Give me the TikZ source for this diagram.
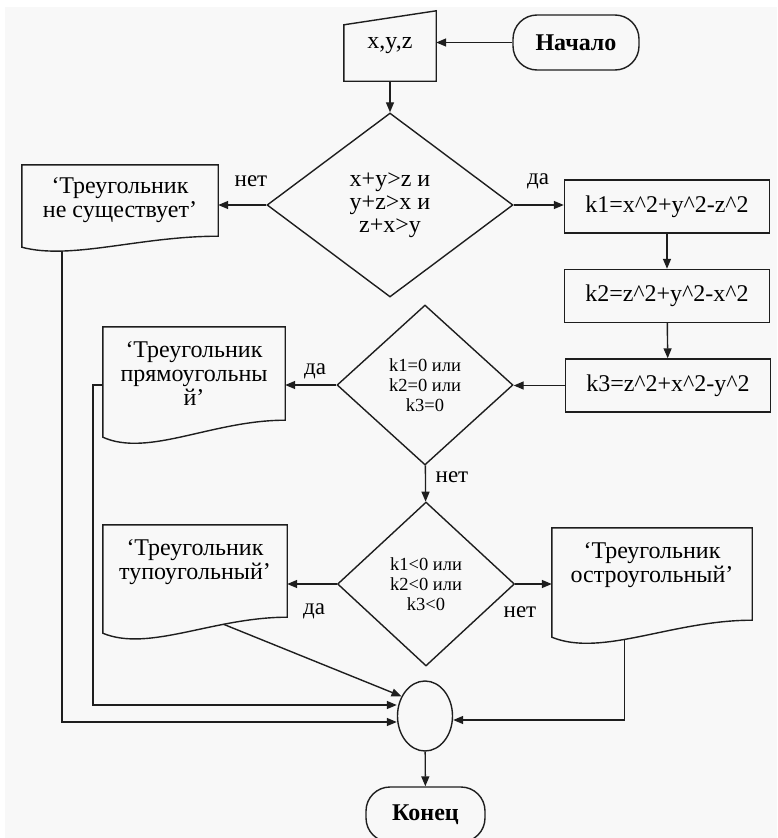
\documentclass[tikz,border=0pt]{standalone}
\usepackage{fontspec}
\setmainfont{Liberation Serif}
\usetikzlibrary{shapes.geometric, arrows.meta, positioning, calc}
\definecolor{bgcol}{RGB}{248,248,248}
\definecolor{linecol}{RGB}{30,30,30}
\newcommand{\pw}{\textasciicircum}
\newcommand{\bigtxt}{\fontsize{24}{24}\selectfont}
\newcommand{\smalltxt}{\fontsize{18.5}{20}\selectfont}
% document symbol: frame of node #1, wavy bottom, left corner #2 lower
\newcommand{\docedge}[2]{%
  \draw[flowline] (#1.south east) -- (#1.north east) -- (#1.north west)
    -- ($(#1.south west)+(0,#2)$)
    .. controls ($(#1.south west)!0.25!(#1.south east)+(0,2.2*#2)$)
       and ($(#1.south west)!0.6!(#1.south east)$) .. (#1.south east)
    coordinate[pos=0.7] (#1-a) coordinate[pos=0.42] (#1-b)
    coordinate[pos=0.25] (#1-c) -- cycle;
}

\begin{document}
\begin{tikzpicture}[x=1pt, y=-1pt,
  flowline/.style={draw=linecol, line width=1.4pt},
  arr/.style={flowline, -{Triangle[length=10pt, width=8pt]}},
  term/.style={flowline, rectangle, rounded corners=24pt, minimum height=55pt,
               inner sep=0pt, font=\bigtxt\bfseries},
  proc/.style={flowline, rectangle, minimum width=205pt, minimum height=53pt,
               inner sep=0pt, font=\bigtxt},
  cond/.style={flowline, diamond, inner sep=0pt, align=center},
  doc/.style={rectangle, inner sep=0pt, align=center,
              font=\fontsize{24}{24}\selectfont},
  lbl/.style={inner sep=0pt, font=\fontsize{23}{23}\selectfont}]
\useasboundingbox (0,0) rectangle (777,838);
\fill[white] (0,0) rectangle (777,838);
\fill[bgcol] (5,7) rectangle (777,838);

% start and input
\node[term, minimum width=126pt] (start) at (576,42.5) {Начало};
\node[rectangle, minimum width=92pt, minimum height=70pt, inner sep=0pt,
      font=\bigtxt] (inp) at (390,46) {x,y,z};
\draw[flowline] (inp.south west) -- (inp.south east) -- (inp.north east)
  -- ($(inp.north west)+(0,14)$) -- cycle;

% first check
\node[cond, minimum width=246pt, minimum height=184pt,
      font=\fontsize{24}{23}\selectfont] (cond1) at (390,205)
  {x+y>z и\\y+z>x и\\z+x>y};
\node[doc, minimum width=196pt, minimum height=71pt] (doc1) at (120,200.5)
  {‘Треугольник\\не существует’};
\docedge{doc1}{11}

% k1, k2, k3
\node[proc] (k1) at (667,206.5) {k1=x\pw2+y\pw2-z\pw2};
\node[proc] (k2) at (667,296) {k2=z\pw2+y\pw2-x\pw2};
\node[proc] (k3) at (668,385.5) {k3=z\pw2+x\pw2-y\pw2};

% second and third checks
\node[cond, minimum width=176pt, minimum height=160pt, font=\smalltxt]
  (cond2) at (425,385) {k1=0 или\\k2=0 или\\k3=0};
\node[cond, minimum width=177pt, minimum height=164pt, font=\smalltxt]
  (cond3) at (426,584) {k1<0 или\\k2<0 или\\k3<0};
\node[doc, minimum width=182pt, minimum height=93pt] (doc2) at (194,373.5)
  {‘Треугольник\\прямоугольны\\й’};
\docedge{doc2}{17}
\node[doc, minimum width=184pt, minimum height=92pt, text depth=23pt]
  (doc3) at (195,571) {‘Треугольник\\тупоугольный’};
\docedge{doc3}{16}
\node[doc, minimum width=200pt, minimum height=92pt, text depth=23pt]
  (doc4) at (652,574) {‘Треугольник\\остроугольный’};
\docedge{doc4}{17}

% join and end
\node[flowline, ellipse, minimum width=55pt, minimum height=70pt,
      inner sep=0pt] (join) at (425,716) {};
\node[term, minimum width=119pt] (stop) at (425.5,814.5) {Конец};

% branch labels
\node[lbl] (no1) at (251,181) {нет};
\node[lbl] (yes1) at (538,181) {да};
\node[lbl] (yes2) at (315,371) {да};
\node[lbl] (no2) at (452,477) {нет};
\node[lbl] (yes3) at (314,611) {да};
\node[lbl] (no3) at (520,612) {нет};

% connectors
\draw[arr] (start.west) -- (start.west -| inp.east);
\draw[arr] (inp) -- (cond1);
\draw[arr] (cond1.east) -- (cond1.east -| k1.west);
\draw[arr] (cond1.west) -- (cond1.west -| doc1.east);
\draw[arr] (k1) -- (k2);
\draw[arr] (k2) -- (k3);
\draw[arr] (k3.west) -- (k3.west -| cond2.east);
\draw[arr] (cond2.west) -- (cond2.west -| doc2.east);
\draw[arr] (cond2) -- (cond3);
\draw[arr] (cond3.west) -- (cond3.west -| doc3.east);
\draw[arr] (cond3.east) -- (cond3.east -| doc4.west);
\draw[arr] (doc1-c) |- ([yshift=-6pt]join.west);
\draw[arr] (doc2.west |- cond2.west) -- ++(-10,0) |- ([yshift=11pt]join.west);
\draw[arr] (doc3-a) -- (join.140);
\draw[arr] (doc4-b) |- ([yshift=-4pt]join.east);
\draw[arr] (join) -- (stop);
\end{tikzpicture}
\end{document}
